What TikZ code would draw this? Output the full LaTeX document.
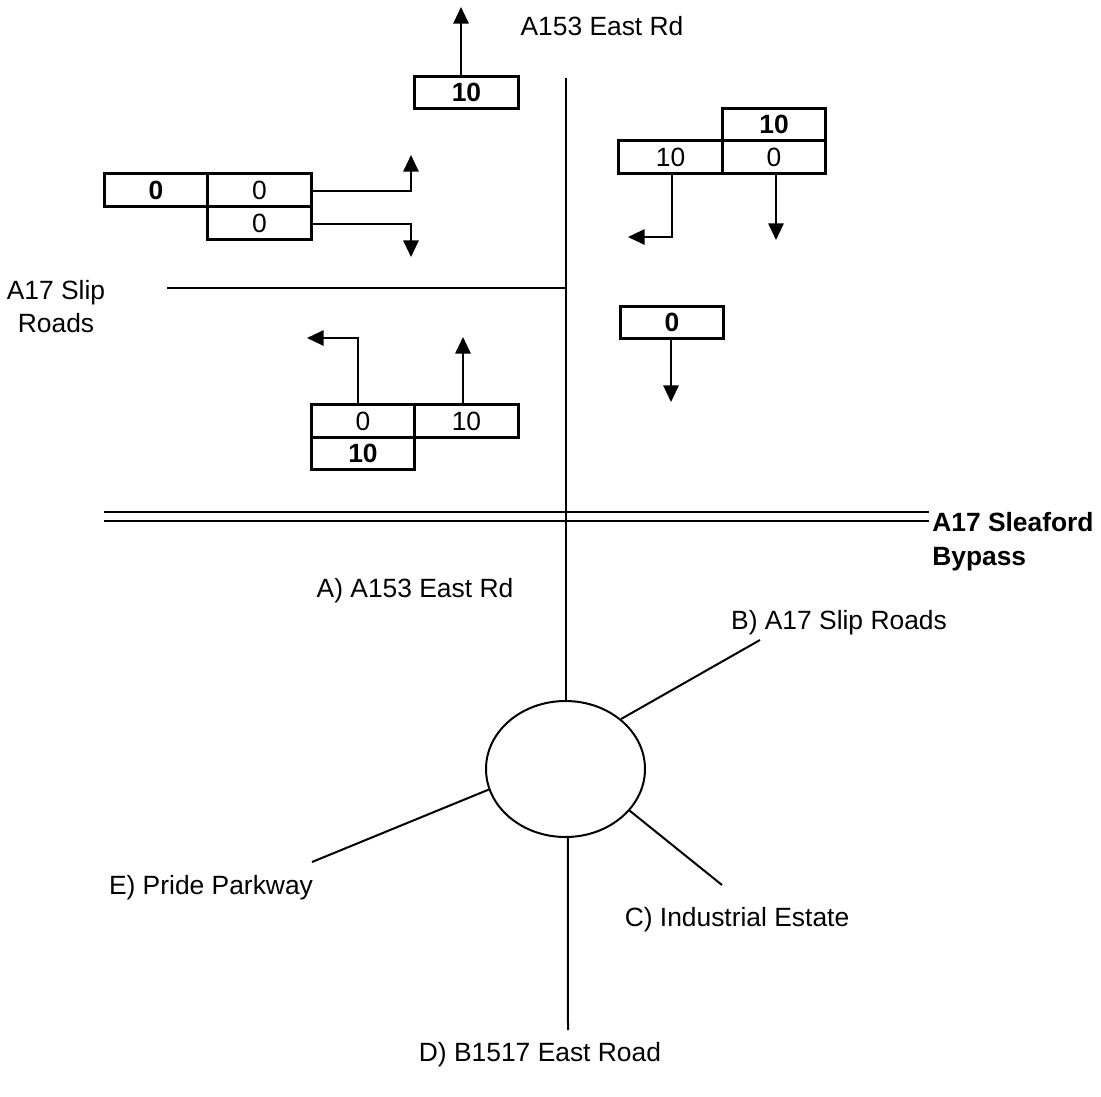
\documentclass[tikz,border=0pt]{standalone}
\usepackage{fontspec}
\setmainfont{Liberation Sans}
\usetikzlibrary{arrows.meta,shapes.geometric}
\begin{document}
\begin{tikzpicture}[x=0.75pt,y=-0.75pt,
  cell/.style={draw, line width=2.5pt, minimum width=77.6pt, minimum height=24.4pt,
    inner sep=0pt, font=\fontsize{19.8}{22}\selectfont},
  bcell/.style={cell, font=\fontsize{19.8}{22}\selectfont\bfseries},
  road/.style={line width=1.5pt},
  flow/.style={line width=1.5pt, -{Triangle[width=11.5pt,length=12.5pt]}},
  lbl/.style={font=\fontsize{19.8}{24.75}\selectfont, inner sep=0pt, align=center, anchor=base},
]
\useasboundingbox (0,0) rectangle (1101,1097);

% ---- turning count boxes ----
\node[bcell] (T1) at (466.5,92.5) {10};

\node[bcell] (R1) at (774,124.5) {10};
\node[cell]  (R2) at (670.5,157) {10};
\node[cell]  (R3) at (774,157) {0};

\node[bcell] (L1) at (156,190) {0};
\node[cell]  (L2) at (259.5,190) {0};
\node[cell]  (L3) at (259.5,223) {0};

\node[cell]  (B1) at (363,421) {0};
\node[cell]  (B2) at (466.5,421) {10};
\node[bcell] (B3) at (363,453.5) {10};

\node[bcell] (M1) at (672,322.5) {0};

% ---- movement arrows ----
\coordinate (t1e) at (461,7);
\draw[flow] (T1.north -| t1e) -- (t1e);

\coordinate (r2c) at (672,237);
\coordinate (r2e) at (628,237);
\draw[flow] (R2.south -| r2c) -- (r2c) -- (r2e);
\coordinate (r3e) at (776,240);
\draw[flow] (R3.south -| r3e) -- (r3e);

\coordinate (l2c) at (411,191);
\coordinate (l2e) at (411,155);
\draw[flow] (L2.east |- l2c) -- (l2c) -- (l2e);
\coordinate (l3c) at (411,224);
\coordinate (l3e) at (411,257);
\draw[flow] (L3.east |- l3c) -- (l3c) -- (l3e);

\coordinate (b1c) at (358,338);
\coordinate (b1e) at (307,338);
\draw[flow] (B1.north -| b1c) -- (b1c) -- (b1e);
\coordinate (b2e) at (463,337);
\draw[flow] (B2.north -| b2e) -- (b2e);

\coordinate (m1e) at (671,402);
\draw[flow] (M1.south -| m1e) -- (m1e);

% ---- roads ----
\node[draw, ellipse, line width=1.5pt, minimum width=119.25pt, minimum height=102pt, inner sep=0pt] (RB) at (565.5,769) {};
\coordinate (ntop) at (565.5,78);
\draw[road] (ntop) -- (RB.north);
\coordinate (slipw) at (167,288);
\draw[road] (slipw) -- (ntop |- slipw);

\coordinate (bw1) at (104,512);
\coordinate (be1) at (929,512);
\coordinate (bw2) at (104,521);
\coordinate (be2) at (929,521);
\draw[road] (bw1) -- (be1);
\draw[road] (bw2) -- (be2);

\coordinate (bEnd) at (760,640);
\coordinate (cEnd) at (722,885);
\coordinate (dEnd) at (568,1030);
\coordinate (eEnd) at (312,862);
\draw[road] (RB.42.6) -- (bEnd);
\draw[road] (RB.-33.9) -- (cEnd);
\draw[road] (RB.-88) -- (dEnd);
\draw[road] (RB.195.4) -- (eEnd);

% ---- labels ----
\node[lbl] (tA153) at (602,35) {A153 East Rd};
\node[lbl] (tSlip) at (56,332) {A17 Slip\\Roads};
\node[lbl, anchor=base west, align=left, font=\fontsize{19.8}{25.5}\selectfont\bfseries] (tByp) at (932,565) {A17 Sleaford\\Bypass};
\node[lbl] (tA) at (415,597.5) {A) A153 East Rd};
\node[lbl] (tB) at (839,629.5) {B) A17 Slip Roads};
\node[lbl] (tE) at (211,894.5) {E) Pride Parkway};
\node[lbl] (tC) at (737,926.5) {C) Industrial Estate};
\node[lbl] (tD) at (540,1061.5) {D) B1517 East Road};
\end{tikzpicture}
\end{document}
